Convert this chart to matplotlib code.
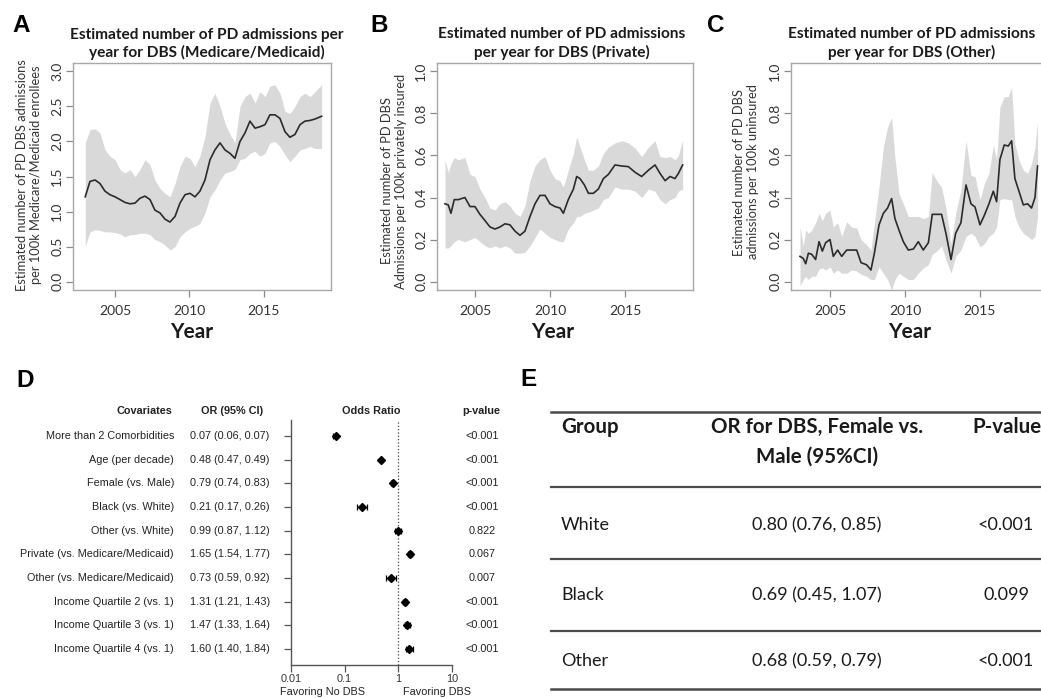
import matplotlib
matplotlib.use('Agg')
import matplotlib.pyplot as plt
import numpy as np
from matplotlib.lines import Line2D
from matplotlib.ticker import NullLocator
from matplotlib.transforms import blended_transform_factory

# ---------------- data ----------------
# Panel A (Medicare/Medicaid)
years_a = [2003.0, 2003.32, 2003.66, 2003.99, 2004.33, 2004.66, 2005.0, 2005.34, 2005.67, 2006.01,
           2006.34, 2006.68, 2007.01, 2007.35, 2007.68, 2008.02, 2008.36, 2008.69, 2009.03, 2009.36,
           2009.70, 2010.03, 2010.37, 2010.70, 2011.04, 2011.38, 2011.71, 2012.05, 2012.38, 2012.72,
           2013.05, 2013.39, 2013.72, 2014.06, 2014.40, 2014.73, 2015.07, 2015.40, 2015.74, 2016.07,
           2016.41, 2016.74, 2017.08, 2017.42, 2017.75, 2018.09, 2018.42, 2018.87]
mid_a = [1.21, 1.43, 1.45, 1.40, 1.29, 1.24, 1.21, 1.17, 1.13, 1.11,
         1.12, 1.19, 1.22, 1.17, 1.02, 0.98, 0.89, 0.85, 0.93, 1.12,
         1.24, 1.26, 1.21, 1.29, 1.45, 1.74, 1.88, 1.98, 1.88, 1.83,
         1.76, 2.00, 2.12, 2.29, 2.19, 2.21, 2.24, 2.38, 2.38, 2.33,
         2.14, 2.06, 2.10, 2.24, 2.29, 2.30, 2.32, 2.36]
hi_a = [1.98, 2.17, 2.18, 2.12, 1.88, 1.79, 1.74, 1.60, 1.55, 1.60,
        1.50, 1.60, 1.74, 1.67, 1.45, 1.33, 1.26, 1.21, 1.40, 1.64,
        1.79, 1.76, 1.64, 1.79, 2.07, 2.55, 2.69, 2.50, 2.26, 2.10,
        1.98, 2.50, 2.64, 2.69, 2.55, 2.71, 2.64, 2.79, 2.81, 2.69,
        2.43, 2.40, 2.50, 2.64, 2.69, 2.64, 2.71, 2.81]
lo_a = [0.50, 0.71, 0.74, 0.73, 0.71, 0.71, 0.70, 0.68, 0.64, 0.67,
        0.67, 0.69, 0.69, 0.67, 0.60, 0.57, 0.52, 0.45, 0.50, 0.64,
        0.71, 0.76, 0.79, 0.83, 0.98, 1.21, 1.31, 1.45, 1.55, 1.57,
        1.60, 1.74, 1.76, 1.83, 1.86, 1.79, 1.83, 1.98, 2.00, 1.93,
        1.81, 1.71, 1.79, 1.88, 1.90, 1.93, 1.90, 1.90]

# Panel B (Private)
years_b = [2003.0, 2003.22, 2003.4, 2003.62, 2003.89, 2004.33, 2004.67, 2005.0, 2005.33, 2005.67,
           2006.0, 2006.33, 2006.67, 2007.0, 2007.33, 2007.67, 2008.0, 2008.33, 2008.67, 2009.0,
           2009.33, 2009.67, 2010.0, 2010.33, 2010.67, 2010.89, 2011.22, 2011.56, 2011.78, 2012.0,
           2012.29, 2012.56, 2012.89, 2013.22, 2013.56, 2013.89, 2014.33, 2014.78, 2015.22, 2015.67,
           2016.11, 2016.56, 2017.0, 2017.33, 2017.67, 2018.0, 2018.33, 2018.56, 2018.84]
mid_b = [0.37, 0.365, 0.325, 0.39, 0.39, 0.40, 0.357, 0.357, 0.32, 0.29,
         0.26, 0.25, 0.26, 0.275, 0.27, 0.24, 0.22, 0.24, 0.31, 0.37,
         0.41, 0.41, 0.37, 0.357, 0.35, 0.325, 0.39, 0.44, 0.50, 0.49,
         0.46, 0.42, 0.42, 0.44, 0.49, 0.51, 0.555, 0.55, 0.547, 0.52,
         0.50, 0.53, 0.555, 0.515, 0.48, 0.50, 0.49, 0.515, 0.555]
hi_b = [0.58, 0.52, 0.56, 0.59, 0.58, 0.59, 0.51, 0.50, 0.44, 0.40,
        0.35, 0.34, 0.37, 0.38, 0.36, 0.325, 0.31, 0.36, 0.48, 0.55,
        0.58, 0.595, 0.53, 0.49, 0.48, 0.45, 0.53, 0.61, 0.69, 0.64,
        0.58, 0.53, 0.53, 0.55, 0.61, 0.64, 0.66, 0.67, 0.66, 0.635,
        0.595, 0.64, 0.67, 0.595, 0.59, 0.595, 0.58, 0.60, 0.675]
lo_b = [0.16, 0.16, 0.17, 0.19, 0.20, 0.19, 0.20, 0.21, 0.19, 0.17,
        0.16, 0.17, 0.16, 0.17, 0.16, 0.135, 0.135, 0.14, 0.17, 0.21,
        0.25, 0.23, 0.21, 0.20, 0.19, 0.19, 0.25, 0.28, 0.31, 0.31,
        0.325, 0.33, 0.34, 0.35, 0.39, 0.40, 0.45, 0.44, 0.44, 0.43,
        0.40, 0.44, 0.43, 0.39, 0.37, 0.39, 0.40, 0.43, 0.44]

# Panel C (Other)
years_c = [2003.0, 2003.22, 2003.38, 2003.56, 2003.78, 2004.04, 2004.27, 2004.49, 2004.71, 2005.0,
           2005.22, 2005.51, 2005.78, 2006.11, 2006.44, 2006.78, 2007.07, 2007.44, 2007.73, 2007.96,
           2008.27, 2008.56, 2008.84, 2009.11, 2009.33, 2009.6, 2009.89, 2010.22, 2010.56, 2010.89,
           2011.22, 2011.56, 2011.82, 2012.11, 2012.44, 2012.73, 2013.07, 2013.38, 2013.73, 2014.07,
           2014.4, 2014.67, 2015.0, 2015.29, 2015.6, 2015.89, 2016.11, 2016.33, 2016.62, 2016.89,
           2017.11, 2017.33, 2017.6, 2017.89, 2018.18, 2018.44, 2018.67, 2018.84]
mid_c = [0.12, 0.11, 0.085, 0.135, 0.13, 0.105, 0.19, 0.145, 0.185, 0.20,
         0.12, 0.15, 0.12, 0.15, 0.15, 0.15, 0.09, 0.08, 0.055, 0.135,
         0.27, 0.325, 0.35, 0.395, 0.30, 0.245, 0.19, 0.15, 0.155, 0.19,
         0.15, 0.185, 0.32, 0.32, 0.32, 0.23, 0.105, 0.23, 0.28, 0.46,
         0.37, 0.355, 0.27, 0.315, 0.37, 0.43, 0.38, 0.58, 0.65, 0.645,
         0.67, 0.49, 0.43, 0.365, 0.37, 0.35, 0.40, 0.55]
hi_c = [0.26, 0.17, 0.245, 0.23, 0.245, 0.28, 0.325, 0.29, 0.325, 0.34,
        0.26, 0.28, 0.215, 0.285, 0.26, 0.255, 0.20, 0.175, 0.15, 0.28,
        0.45, 0.64, 0.735, 0.78, 0.59, 0.42, 0.37, 0.31, 0.31, 0.31,
        0.30, 0.31, 0.52, 0.48, 0.45, 0.35, 0.18, 0.325, 0.435, 0.67,
        0.505, 0.50, 0.39, 0.465, 0.515, 0.65, 0.58, 0.83, 0.88, 0.88,
        0.925, 0.655, 0.58, 0.53, 0.515, 0.56, 0.64, 0.76]
lo_c = [-0.02, 0.01, 0.025, 0.01, 0.025, 0.025, 0.06, 0.065, 0.055, 0.07,
        0.04, 0.055, 0.04, 0.04, 0.055, 0.05, 0.035, 0.025, 0.01, 0.01,
        0.07, 0.04, 0.01, -0.04, 0.01, 0.04, 0.025, 0.01, 0.01, 0.04,
        0.065, 0.08, 0.13, 0.145, 0.17, 0.105, 0.04, 0.12, 0.15, 0.215,
        0.23, 0.215, 0.165, 0.18, 0.215, 0.23, 0.26, 0.39, 0.395, 0.39,
        0.39, 0.31, 0.26, 0.23, 0.215, 0.20, 0.215, 0.31]

# Panel D (forest plot)
covariates = ["More than 2 Comorbidities", "Age (per decade)", "Female (vs. Male)",
              "Black (vs. White)", "Other (vs. White)", "Private (vs. Medicare/Medicaid)",
              "Other (vs. Medicare/Medicaid)", "Income Quartile 2 (vs. 1)",
              "Income Quartile 3 (vs. 1)", "Income Quartile 4 (vs. 1)"]
or_est = [0.07, 0.48, 0.79, 0.21, 0.99, 1.65, 0.73, 1.31, 1.47, 1.60]
or_low = [0.06, 0.47, 0.74, 0.17, 0.87, 1.54, 0.59, 1.21, 1.33, 1.40]
or_high = [0.07, 0.49, 0.83, 0.26, 1.12, 1.77, 0.92, 1.43, 1.64, 1.84]
p_values = ["<0.001", "<0.001", "<0.001", "<0.001", "0.822", "0.067", "0.007",
            "<0.001", "<0.001", "<0.001"]
forest_ticks = [0.01, 0.1, 1, 10]
forest_tick_labels = ["0.01", "0.1", "1", "10"]

# Panel E (table)
e_groups = ["White", "Black", "Other"]
e_or = ["0.80 (0.76, 0.85)", "0.69 (0.45, 1.07)", "0.68 (0.59, 0.79)"]
e_p = ["<0.001", "0.099", "<0.001"]

# ---------------- figure ----------------
W, H = 1041, 698
fig = plt.figure(figsize=(W / 100, H / 100), dpi=100)
SANS = ['Lato', 'DejaVu Sans']
ARIAL = ['Liberation Sans', 'DejaVu Sans']


def fx(x):
    return x / W


def fy(y):
    return 1 - y / H


def add_ax(x0, y0, x1, y1):
    return fig.add_axes([fx(x0), fy(y1), (x1 - x0) / W, (y1 - y0) / H])


def ts_panel(x0, x1, years, mid, lo, hi, xlim, ylim, yticks, title_lines, title_x,
             ylabel, ylab_x, ylab_y, year_x):
    ax = add_ax(x0, 63, x1, 290)
    ax.fill_between(years, lo, hi, color='#d9d9d9', lw=0)
    ax.plot(years, mid, color='#2b2b2b', lw=1.2)
    ax.set_xlim(xlim)
    ax.set_ylim(ylim)
    ax.set_xticks([2005, 2010, 2015])
    ax.set_xticklabels(['2005', '2010', '2015'], family=SANS)
    ax.set_yticks(yticks)
    ax.set_yticklabels([f'{t:.1f}' for t in yticks], rotation=90, va='center', family=SANS)
    for s in ax.spines.values():
        s.set_color('#a8a8a8')
        s.set_linewidth(1.0)
    ax.tick_params(direction='out', length=5, width=0.9, color='#8a8a8a',
                   labelcolor='#333333', labelsize=10)
    ax.tick_params(axis='x', pad=6)
    ax.tick_params(axis='y', pad=2)
    fig.text(fx(title_x), fy(38.5), title_lines[0], ha='center', va='baseline',
             fontsize=11.1, fontweight='bold', family=SANS, color='#1a1a1a')
    fig.text(fx(title_x), fy(57), title_lines[1], ha='center', va='baseline',
             fontsize=11.1, fontweight='bold', family=SANS, color='#1a1a1a')
    fig.text(fx(ylab_x), fy(ylab_y), ylabel, rotation=90, ha='center', va='center',
             fontsize=9.3, family=SANS, linespacing=1.2, color='#333333')
    fig.text(fx(year_x), fy(338), 'Year', ha='center', va='baseline',
             fontsize=15, fontweight='bold', family=SANS, color='#1a1a1a')
    return ax


ts_panel(73, 331, years_a, mid_a, lo_a, hi_a, (2002.18, 2019.5), (-0.12, 3.12),
         [0.0, 0.5, 1.0, 1.5, 2.0, 2.5, 3.0],
         ['Estimated number of PD admissions per', 'year for DBS (Medicare/Medicaid)'], 207,
         'Estimated number of PD DBS admissions\nper 100k Medicare/Medicaid enrollees', 29, 175,
         192)
ts_panel(437, 693, years_b, mid_b, lo_b, hi_b, (2002.47, 2019.53), (-0.04, 1.04),
         [0.0, 0.2, 0.4, 0.6, 0.8, 1.0],
         ['Estimated number of PD admissions', 'per year for DBS (Private)'], 562,
         'Estimated number of PD DBS\nAdmissions per 100k privately insured', 394, 181,
         553)
ts_panel(791, 1047, years_c, mid_c, lo_c, hi_c, (2002.4, 2019.47), (-0.04, 1.04),
         [0.0, 0.2, 0.4, 0.6, 0.8, 1.0],
         ['Estimated number of PD admissions', 'per year for DBS (Other)'], 912,
         'Estimated number of PD DBS\nadmissions per 100k uninsured', 746, 172,
         910)

# panel letters
for letter, (lx, ly) in {'A': (12, 32), 'B': (370, 32), 'C': (707, 32),
                         'D': (16, 387), 'E': (520, 386)}.items():
    fig.text(fx(lx), fy(ly), letter, ha='left', va='baseline', fontsize=17.5,
             fontweight='bold', family=ARIAL, color='black')

# ---------------- panel D ----------------
FS_D = 7.8
axd = add_ax(291, 420, 452, 665)
rows = np.arange(len(covariates))
est = np.array(or_est)
xerr = [est - np.array(or_low), np.array(or_high) - est]
axd.set_xscale('log')
axd.errorbar(est, rows, xerr=xerr, fmt='D', color='black', ms=4.2, capsize=2.2,
             elinewidth=0.9, capthick=0.9)
axd.axvline(1, ls=':', color='#444444', lw=0.9)
axd.set_xlim(0.01, 10)
axd.set_ylim(9.675, -0.675)
axd.xaxis.set_minor_locator(NullLocator())
axd.set_xticks(forest_ticks)
axd.set_xticklabels(forest_tick_labels, family=ARIAL)
axd.set_yticks(rows)
axd.set_yticklabels([])
for s in ('top', 'right'):
    axd.spines[s].set_visible(False)
for s in ('left', 'bottom'):
    axd.spines[s].set_color('#555555')
    axd.spines[s].set_linewidth(1.0)
axd.tick_params(direction='out', length=5, width=0.9, color='#555555',
                labelsize=FS_D, labelcolor='#333333', pad=1.5)

tr = blended_transform_factory(fig.transFigure, axd.transData)
for i, (cov, e, l, h, p) in enumerate(zip(covariates, or_est, or_low, or_high, p_values)):
    axd.text(fx(174), i, cov, transform=tr, ha='right', va='center', fontsize=FS_D,
             family=ARIAL, color='#222222', clip_on=False)
    axd.text(fx(190), i, f'{e:.2f} ({l:.2f}, {h:.2f})', transform=tr, ha='left',
             va='center', fontsize=FS_D, family=ARIAL, color='#222222', clip_on=False)
    axd.text(fx(482), i, p, transform=tr, ha='center', va='center', fontsize=FS_D,
             family=ARIAL, color='#222222', clip_on=False)

for txt, x, ha in [('Covariates', 172, 'right'), ('OR (95% CI)', 232, 'center'),
                   ('Odds Ratio', 371, 'center'), ('p-value', 481, 'center')]:
    fig.text(fx(x), fy(411), txt, ha=ha, va='center', fontsize=FS_D, fontweight='bold',
             family=ARIAL, color='#222222')
fig.text(fx(323), fy(692), 'Favoring No DBS', ha='center', va='center', fontsize=FS_D,
         family=ARIAL, color='#222222')
fig.text(fx(437), fy(692), 'Favoring DBS', ha='center', va='center', fontsize=FS_D,
         family=ARIAL, color='#222222')

# ---------------- panel E ----------------
for yl, lw in [(412, 1.8), (487, 1.6), (559, 1.6), (631, 1.6), (689, 1.8)]:
    fig.add_artist(Line2D([fx(551), fx(1041)], [fy(yl), fy(yl)], color='#4a4a4a', lw=lw))

FS_EB = 14.8
fig.text(fx(561), fy(433), 'Group', ha='left', va='baseline', fontsize=FS_EB,
         fontweight='bold', family=SANS, color='#1a1a1a')
fig.text(fx(817), fy(433), 'OR for DBS, Female vs.', ha='center', va='baseline',
         fontsize=FS_EB, fontweight='bold', family=SANS, color='#1a1a1a')
fig.text(fx(817), fy(463), 'Male (95%CI)', ha='center', va='baseline', fontsize=FS_EB,
         fontweight='bold', family=SANS, color='#1a1a1a')
fig.text(fx(972), fy(433), 'P-value', ha='left', va='baseline', fontsize=FS_EB,
         fontweight='bold', family=SANS, color='#1a1a1a')
for g, o, p, yb in zip(e_groups, e_or, e_p, [530, 600.5, 666]):
    fig.text(fx(561), fy(yb), g, ha='left', va='baseline', fontsize=13, family=SANS,
             color='#1a1a1a')
    fig.text(fx(817), fy(yb), o, ha='center', va='baseline', fontsize=13, family=SANS,
             color='#1a1a1a')
    fig.text(fx(1006), fy(yb), p, ha='center', va='baseline', fontsize=13, family=SANS,
             color='#1a1a1a')

fig.savefig('out.png', dpi=100)
